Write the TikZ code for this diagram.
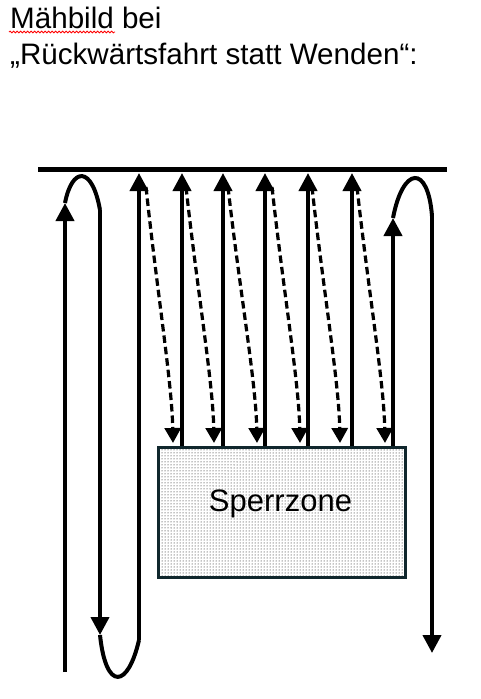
\documentclass[tikz,border=0pt]{standalone}
\usepackage{fontspec}
\setmainfont{Liberation Sans}
\usetikzlibrary{arrows.meta,patterns,decorations.pathmorphing,calc}
\definecolor{zoneborder}{HTML}{10272D}
\begin{document}
\begin{tikzpicture}[x=1pt,y=-1pt,
  track/.style={line width=4pt, black},
  uparrow/.style={track, -{Triangle[length=18pt,width=18pt]}},
  dasharrow/.style={line width=3.2pt, dash pattern=on 7.5pt off 4pt, -{Triangle[length=15pt,width=16pt]}},
  titletext/.style={font=\fontsize{29.6}{35}\selectfont, anchor=base west, inner sep=0pt},
  zone/.style={draw=zoneborder, line width=3.5pt, pattern=dots, pattern color=black, minimum width=247pt, minimum height=130pt, inner sep=0pt},
  squiggle/.style={red, line width=0.8pt, decorate, decoration={snake, amplitude=0.9pt, segment length=3.5pt}}
]
\useasboundingbox (0,0) rectangle (481,699);

% title
\node[titletext] (t1) at (10,28) {Mähbild bei};
\node[titletext] (t2) at (10,64) {„Rückwärtsfahrt statt Wenden“:};
\coordinate (sq0) at (9,32);
\coordinate (sq1) at (115,32);
\draw[squiggle] (sq0) -- (sq1);

% headland line
\coordinate (tl) at (38,169);
\coordinate (tr) at (447,169);
\draw[line width=5pt] (tl) -- (tr);

% blocked zone
\node[zone] (zone) at (282,512.5) {};
\node[font=\fontsize{31}{36}\selectfont, anchor=base, inner sep=0pt] (label) at (280.5,511) {Sperrzone};

% left loop
\coordinate (a0) at (65,672);
\coordinate (a1) at (65,203);
\coordinate (b0) at (100,210);
\coordinate (b1) at (100,635);
\coordinate (c0) at (139,640);
\coordinate (c1) at (139,173);
\draw[uparrow] (a0) -- (a1);
\draw[track] (a1) .. controls (72,167) and (92,165) .. (b0);
\draw[uparrow] (b0) -- (b1);
\draw[track] (b1) .. controls (106,692) and (128,688) .. (c0);
\draw[uparrow] (c0) -- (c1);

% straight runs up from the zone
\foreach \i/\x in {1/182,2/223,3/265,4/308,5/352} {
  \coordinate (s\i) at (\x,173);
  \draw[uparrow] (s\i |- zone.north) -- (s\i);
}

% right loop
\coordinate (r1) at (393,218);
\coordinate (r2) at (432,216);
\coordinate (r3) at (432,653);
\draw[uparrow] (r1 |- zone.north) -- (r1);
\draw[track] (r1) .. controls (403,166) and (428,164) .. (r2);
\draw[uparrow] (r2) -- (r3);

% reverse drives (dashed)
\foreach \i/\sx/\ex in {1/146/173, 2/186/214, 3/228/257, 4/272/300, 5/312/340, 6/357/385} {
  \coordinate (d\i) at (\sx,187);
  \coordinate (e\i) at (\ex,443);
  \draw[dasharrow] (d\i) .. controls ($(d\i)!0.4!(e\i)$) and ($(e\i)+(-1,-60)$) .. (e\i);
}
\end{tikzpicture}
\end{document}
